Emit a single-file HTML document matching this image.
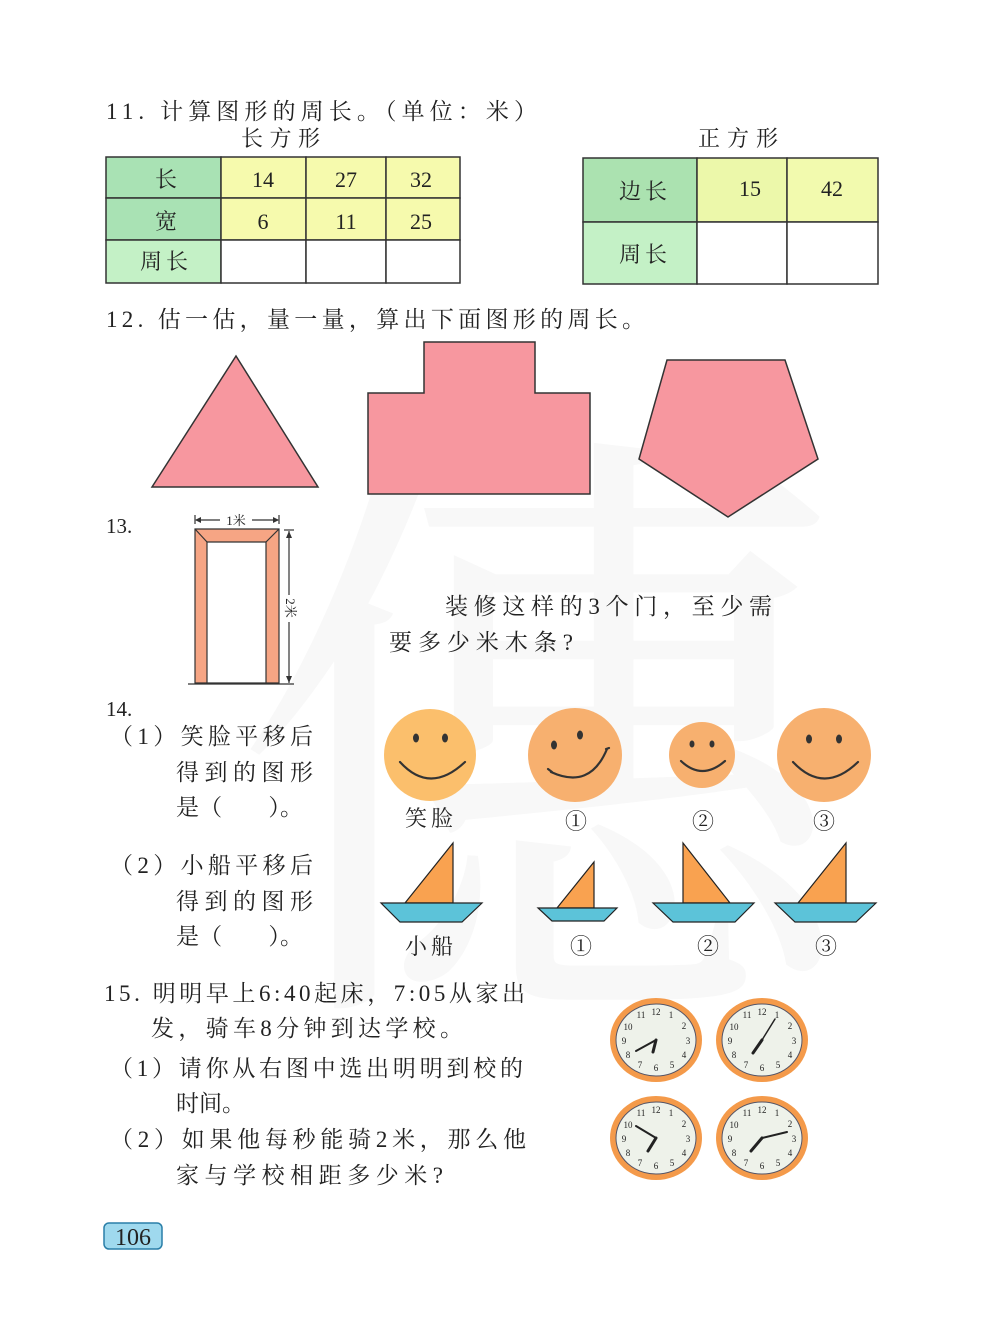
<!DOCTYPE html>
<html><head><meta charset="utf-8"><style>
html,body{margin:0;padding:0;background:#fff}
svg{display:block}
text{font-family:"Liberation Serif","Noto Serif CJK SC",serif;fill:#222}
</style></head><body>
<svg width="1000" height="1336" viewBox="0 0 1000 1336" xmlns="http://www.w3.org/2000/svg">
<!-- watermark -->
<text x="230" y="960" font-size="620" style="fill:#f8f8f8">僡</text>

<!-- 11 -->
<text x="106" y="119" font-size="23" textLength="431" lengthAdjust="spacing">11. 计算图形的周长。（单位：米）</text>
<text x="241" y="146" font-size="22" textLength="79" lengthAdjust="spacing">长方形</text>
<text x="698" y="146" font-size="22" textLength="80" lengthAdjust="spacing">正方形</text>
<g stroke="#333" stroke-width="1.5">
<rect x="106" y="157" width="115" height="41" fill="#a9e2b4"/>
<rect x="106" y="198" width="115" height="42" fill="#a9e2b4"/>
<rect x="106" y="240" width="115" height="43" fill="#c4f1c6"/>
<rect x="221" y="157" width="85" height="41" fill="#f6faad"/>
<rect x="306" y="157" width="80" height="41" fill="#f6faad"/>
<rect x="386" y="157" width="74" height="41" fill="#f6faad"/>
<rect x="221" y="198" width="85" height="42" fill="#f6faad"/>
<rect x="306" y="198" width="80" height="42" fill="#f6faad"/>
<rect x="386" y="198" width="74" height="42" fill="#f6faad"/>
<rect x="221" y="240" width="85" height="43" fill="#fff"/>
<rect x="306" y="240" width="80" height="43" fill="#fff"/>
<rect x="386" y="240" width="74" height="43" fill="#fff"/>
<rect x="583" y="158" width="114" height="64" fill="#abe2b0"/>
<rect x="583" y="222" width="114" height="62" fill="#c4f1c6"/>
<rect x="697" y="158" width="90" height="64" fill="#ecf8aa"/>
<rect x="787" y="158" width="91" height="64" fill="#f2faae"/>
<rect x="697" y="222" width="90" height="62" fill="#fff"/>
<rect x="787" y="222" width="91" height="62" fill="#fff"/>
</g>
<g font-size="22" text-anchor="middle">
<text x="166" y="187">长</text><text x="263" y="187">14</text><text x="346" y="187">27</text><text x="421" y="187">32</text>
<text x="166" y="229">宽</text><text x="263" y="229">6</text><text x="346" y="229">11</text><text x="421" y="229">25</text>
<text x="166" y="269" letter-spacing="4">周长</text>
<text x="645" y="199" letter-spacing="4">边长</text><text x="750" y="196">15</text><text x="832" y="196">42</text>
<text x="645" y="262" letter-spacing="4">周长</text>
</g>

<!-- 12 -->
<text x="106" y="327" font-size="23" textLength="539" lengthAdjust="spacing">12. 估一估，量一量，算出下面图形的周长。</text>
<g fill="#f7979f" stroke="#333" stroke-width="1.5">
<polygon points="152,487 236,356 318,487"/>
<polygon points="368,393 424,393 424,342 535,342 535,393 590,393 590,494 368,494"/>
<polygon points="667,360 785,360 818,459 728,517 639,459"/>
</g>

<!-- 13 -->
<text x="106" y="533" font-size="21">13.</text>
<g stroke="#333" stroke-width="1.2">
<polygon points="195,529 279,529 279,683 195,683" fill="#f6a584"/>
<polygon points="207,542 266,542 266,683 207,683" fill="#fff"/>
<line x1="195" y1="529" x2="207" y2="542"/><line x1="279" y1="529" x2="266" y2="542"/>
<line x1="188" y1="684" x2="294" y2="684"/>
<line x1="195" y1="515" x2="195" y2="524"/><line x1="279" y1="515" x2="279" y2="524"/>
<line x1="196" y1="520" x2="220" y2="520"/><line x1="252" y1="520" x2="278" y2="520"/>
<line x1="284" y1="530" x2="294" y2="530"/>
<line x1="289" y1="531" x2="289" y2="595"/><line x1="289" y1="622" x2="289" y2="683"/>
</g>
<polygon points="195,520 201,517 201,523" fill="#333"/><polygon points="279,520 273,517 273,523" fill="#333"/>
<polygon points="289,531 286,538 292,538" fill="#333"/><polygon points="289,683 286,676 292,676" fill="#333"/>
<text x="236" y="525" font-size="13" text-anchor="middle">1米</text>
<text x="0" y="0" font-size="13" text-anchor="middle" transform="translate(286,608) rotate(90)">2米</text>
<text x="445" y="614" font-size="23" textLength="327" lengthAdjust="spacing">装修这样的3个门，至少需</text>
<text x="389" y="650" font-size="23" textLength="184" lengthAdjust="spacing">要多少米木条?</text>

<!-- 14 -->
<text x="106" y="716" font-size="21">14.</text>
<g font-size="23">
<text x="110" y="744" textLength="203" lengthAdjust="spacing">（1）笑脸平移后</text>
<text x="176" y="780" textLength="137" lengthAdjust="spacing">得到的图形</text>
<text x="176" y="815" textLength="127" lengthAdjust="spacing">是（　　）。</text>
<text x="110" y="873" textLength="203" lengthAdjust="spacing">（2）小船平移后</text>
<text x="176" y="909" textLength="137" lengthAdjust="spacing">得到的图形</text>
<text x="176" y="944" textLength="127" lengthAdjust="spacing">是（　　）。</text>
</g>
<circle cx="430" cy="755" r="46" fill="#fbbf6c"/>
<circle cx="575" cy="755" r="47" fill="#f7b06f"/>
<circle cx="702" cy="755" r="33" fill="#f7b06f"/>
<circle cx="824" cy="755" r="47" fill="#f7b06f"/>
<g fill="#333">
<ellipse cx="416" cy="738" rx="3" ry="4.5"/><ellipse cx="445" cy="738" rx="3" ry="4.5"/>
<ellipse cx="554" cy="745" rx="3" ry="4.5"/><ellipse cx="580" cy="735" rx="3" ry="4.5"/>
<ellipse cx="692" cy="744" rx="2.5" ry="3.5"/><ellipse cx="712" cy="744" rx="2.5" ry="3.5"/>
<ellipse cx="809" cy="739" rx="3" ry="4.5"/><ellipse cx="839" cy="739" rx="3" ry="4.5"/>
</g>
<g fill="none" stroke="#333" stroke-width="2.2" stroke-linecap="round">
<path d="M400,762 Q430,795 465,762"/>
<path d="M551,772 Q590,790 607,749 M548,769 L552,772 M606,749 L609,748"/>
<path d="M681,761 Q702,781 725,761"/>
<path d="M793,762 Q824,795 858,762"/>
</g>
<g font-size="22" text-anchor="middle">
<text x="431" y="826" letter-spacing="4">笑脸</text><text x="576" y="829">①</text><text x="703" y="829">②</text><text x="824" y="829">③</text>
<text x="431" y="954" letter-spacing="4">小船</text><text x="581" y="954">①</text><text x="708" y="954">②</text><text x="826" y="954">③</text>
</g>
<g stroke="#222" stroke-width="1.2">
<polygon points="405,903 453,843 453,903" fill="#f9a250"/>
<polygon points="381,903 482,903 462,922 400,922" fill="#5cc3d9"/>
<polygon points="557,908 594,862 594,908" fill="#f9a250"/>
<polygon points="538,908 617,908 604,921 552,921" fill="#5cc3d9"/>
<polygon points="683,843 730,903 683,903" fill="#f9a250"/>
<polygon points="653,903 754,903 735,922 673,922" fill="#5cc3d9"/>
<polygon points="798,903 846,843 846,903" fill="#f9a250"/>
<polygon points="775,903 876,903 856,922 795,922" fill="#5cc3d9"/>
</g>

<!-- 15 -->
<g font-size="23">
<text x="104" y="1001" textLength="421" lengthAdjust="spacing">15. 明明早上6:40起床，7:05从家出</text>
<text x="151" y="1036" textLength="312" lengthAdjust="spacing">发，骑车8分钟到达学校。</text>
<text x="110" y="1076" textLength="413" lengthAdjust="spacing">（1）请你从右图中选出明明到校的</text>
<text x="176" y="1111" textLength="69" lengthAdjust="spacing">时间。</text>
<text x="110" y="1147" textLength="416" lengthAdjust="spacing">（2）如果他每秒能骑2米，那么他</text>
<text x="176" y="1183" textLength="267" lengthAdjust="spacing">家与学校相距多少米?</text>
</g>

<defs>
<g id="face">
<ellipse cx="0" cy="0" rx="46" ry="42" fill="#f49a4a"/>
<ellipse cx="0" cy="0" rx="40" ry="36" fill="#eef2ea" stroke="#556" stroke-width="1"/>
<g font-size="9" text-anchor="middle" style="font-family:'Liberation Sans',sans-serif">
<text x="15" y="-22">1</text><text x="28" y="-11">2</text><text x="32" y="4">3</text><text x="28" y="18">4</text><text x="16" y="28">5</text><text x="0" y="31">6</text><text x="-16" y="28">7</text><text x="-28" y="18">8</text><text x="-32" y="4">9</text><text x="-28" y="-10">10</text><text x="-15" y="-22">11</text><text x="0" y="-25">12</text>
</g>
</g>
</defs>
<use href="#face" x="656" y="1040"/>
<use href="#face" x="762" y="1040"/>
<use href="#face" x="656" y="1138"/>
<use href="#face" x="762" y="1138"/>
<g stroke="#222" stroke-linecap="round">
<line x1="656" y1="1040" x2="636" y2="1051" stroke-width="2"/><line x1="656" y1="1040" x2="653" y2="1052" stroke-width="3"/>
<line x1="762" y1="1040" x2="775" y2="1019" stroke-width="1.5"/><line x1="762" y1="1040" x2="753" y2="1053" stroke-width="3"/>
<line x1="656" y1="1138" x2="636" y2="1126" stroke-width="2"/><line x1="656" y1="1138" x2="648" y2="1151" stroke-width="3"/>
<line x1="762" y1="1138" x2="787" y2="1132" stroke-width="2"/><line x1="762" y1="1138" x2="751" y2="1151" stroke-width="3"/>
</g>

<!-- page number -->
<rect x="104" y="1223" width="58" height="26" rx="5" fill="#9fd9ee" stroke="#2a7fa8" stroke-width="1.5"/>
<text x="133" y="1245" font-size="24" text-anchor="middle">106</text>
</svg>
</body></html>
